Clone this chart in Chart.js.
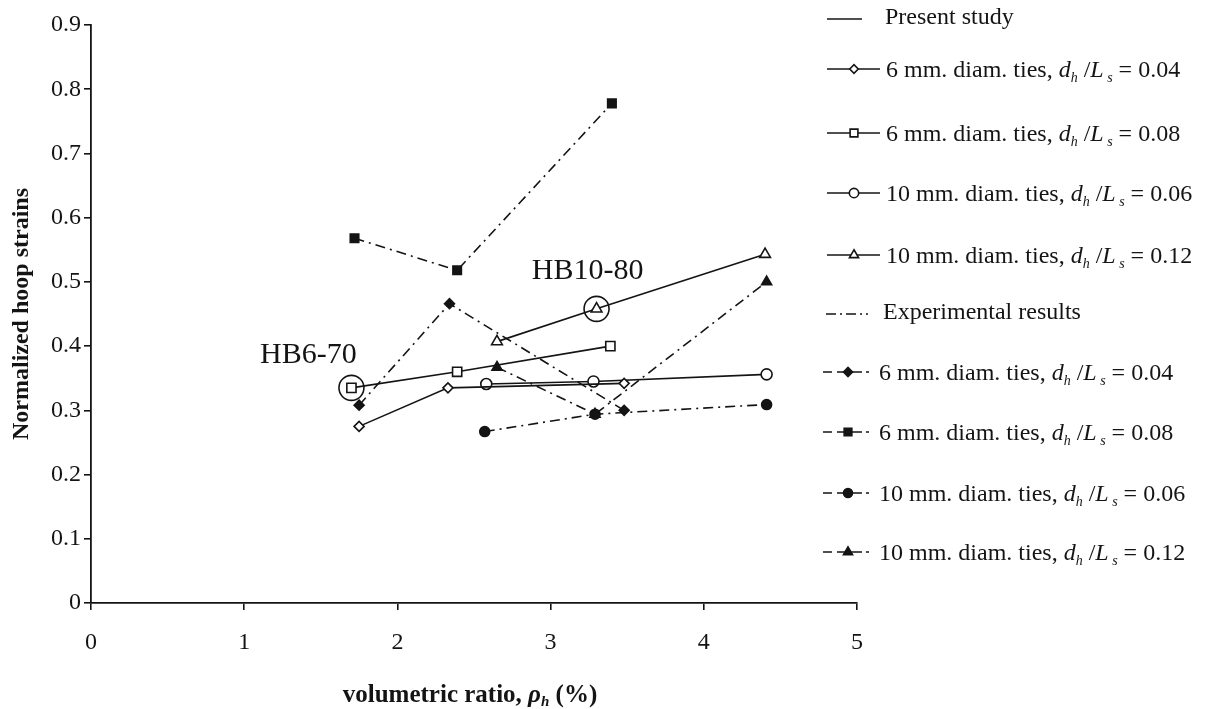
<!DOCTYPE html>
<html>
<head>
<meta charset="utf-8">
<script src="https://cdn.jsdelivr.net/npm/chart.js@4.4.0/dist/chart.umd.min.js"></script>
<style>
  html, body { margin: 0; padding: 0; background: #fff; }
  #wrap { width: 1208px; height: 709px; position: relative; }
</style>
</head>
<body>
<div id="wrap"><canvas id="hoop"></canvas></div>
<script>
// axis ticks
const xTickLabels = ['0', '1', '2', '3', '4', '5'];
const yTickLabels = ['0', '0.1', '0.2', '0.3', '0.4', '0.5', '0.6', '0.7', '0.8', '0.9'];

// present study: volumetric ratio (%) -> normalized hoop strain
const rho6_004 = [1.75, 2.33, 3.48];
const eps6_004 = [0.275, 0.335, 0.342];
const rho6_008 = [1.70, 2.39, 3.39];
const eps6_008 = [0.335, 0.360, 0.400];
const rho10_006 = [2.58, 3.28, 4.41];
const eps10_006 = [0.341, 0.345, 0.356];
const rho10_012 = [2.65, 3.30, 4.40];
const eps10_012 = [0.407, 0.458, 0.543];

// experimental results
const rhoExp6_004 = [1.75, 2.34, 3.48];
const epsExp6_004 = [0.308, 0.466, 0.300];
const rhoExp6_008 = [1.72, 2.39, 3.40];
const epsExp6_008 = [0.568, 0.518, 0.778];
const rhoExp10_006 = [2.57, 3.29, 4.41];
const epsExp10_006 = [0.267, 0.294, 0.309];
const rhoExp10_012 = [2.65, 3.29, 4.41];
const epsExp10_012 = [0.367, 0.294, 0.500];

const tieLabels = ['6 mm. diam. ties,', '6 mm. diam. ties,', '10 mm. diam. ties,', '10 mm. diam. ties,'];
const ratioLabels = ['0.04', '0.08', '0.06', '0.12'];
const specimens = ['HB6-70', 'HB10-80'];

const INK = '#141414';
const SERIF = '"Liberation Serif", "Times New Roman", serif';
const DASHDOT = [10, 5, 2, 5];
const LW = 1.6;

const pts = (xs, ys) => xs.map((x, i) => ({ x, y: ys[i] }));

function series(xs, ys, style, radius, filled, dashed) {
  return {
    data: pts(xs, ys),
    showLine: true,
    borderColor: INK,
    borderWidth: LW,
    borderDash: dashed ? DASHDOT : [],
    pointStyle: style,
    pointRadius: radius,
    pointHoverRadius: radius,
    pointBackgroundColor: filled ? INK : '#fff',
    pointBorderColor: INK,
    pointBorderWidth: LW,
    tension: 0
  };
}

const present = [
  series(rho6_004, eps6_004, 'rectRot', 5, false, false),
  series(rho6_008, eps6_008, 'rect', 6.5, false, false),
  series(rho10_006, eps10_006, 'circle', 5.5, false, false),
  series(rho10_012, eps10_012, 'triangle', 6.2, false, false)
];
const experimental = [
  series(rhoExp6_004, epsExp6_004, 'rectRot', 5, true, true),
  series(rhoExp6_008, epsExp6_008, 'rect', 6, true, true),
  series(rhoExp10_006, epsExp10_006, 'circle', 5, true, true),
  series(rhoExp10_012, epsExp10_012, 'triangle', 5.8, true, true)
];

// rings marking the two named specimens
const rings = {
  data: [
    { x: rho6_008[0], y: eps6_008[0] },
    { x: rho10_012[1], y: eps10_012[1] }
  ],
  showLine: false,
  pointStyle: 'circle',
  pointRadius: 12.5,
  pointHoverRadius: 12.5,
  pointBackgroundColor: 'rgba(0,0,0,0)',
  pointBorderColor: INK,
  pointBorderWidth: LW
};

// draws a run of text pieces [text, font, yShift] starting at x
function drawRun(ctx, x, y, parts) {
  parts.forEach(([t, f, dy]) => {
    ctx.font = f;
    ctx.fillText(t, x, y + (dy || 0));
    x += ctx.measureText(t).width;
  });
  return x;
}

function ratioParts(prefix, value) {
  return [
    [prefix + ' ', '24px ' + SERIF],
    ['d', 'italic 24px ' + SERIF],
    ['h', 'italic 14px ' + SERIF, 5],
    [' /', '24px ' + SERIF],
    ['L', 'italic 24px ' + SERIF],
    [' s', 'italic 14px ' + SERIF, 5],
    [' = ' + value, '24px ' + SERIF]
  ];
}

const sideLegend = {
  id: 'sideLegend',
  afterDraw(chart) {
    const ctx = chart.ctx;
    const rowsY = [19, 69, 133, 193, 255, 314, 372, 432, 493, 552];
    ctx.save();
    ctx.fillStyle = INK;
    ctx.strokeStyle = INK;
    ctx.lineWidth = LW;
    ctx.textBaseline = 'alphabetic';

    // present study header
    ctx.beginPath();
    ctx.moveTo(827, rowsY[0]); ctx.lineTo(862, rowsY[0]);
    ctx.stroke();
    drawRun(ctx, 885, rowsY[0] + 5, [['Present study', '24px ' + SERIF]]);

    present.forEach((ds, i) => {
      const y = rowsY[1 + i];
      ctx.setLineDash([]);
      ctx.beginPath();
      ctx.moveTo(827, y); ctx.lineTo(880, y);
      ctx.stroke();
      ctx.fillStyle = ds.pointBackgroundColor;
      Chart.helpers.drawPoint(ctx, { pointStyle: ds.pointStyle, radius: ds.pointRadius * 0.85, borderWidth: LW }, 854, y);
      ctx.fillStyle = INK;
      drawRun(ctx, 886, y + 8, ratioParts(tieLabels[i], ratioLabels[i]));
    });

    // experimental header
    let y = rowsY[5];
    ctx.setLineDash([10, 4, 2, 4]);
    ctx.beginPath();
    ctx.moveTo(826, y); ctx.lineTo(868, y);
    ctx.stroke();
    ctx.setLineDash([]);
    drawRun(ctx, 883, y + 5, [['Experimental results', '24px ' + SERIF]]);

    experimental.forEach((ds, i) => {
      const y = rowsY[6 + i];
      ctx.beginPath();
      ctx.moveTo(823, y); ctx.lineTo(832, y);
      ctx.moveTo(837, y); ctx.lineTo(862, y);
      ctx.moveTo(866, y); ctx.lineTo(869, y);
      ctx.stroke();
      ctx.fillStyle = INK;
      Chart.helpers.drawPoint(ctx, { pointStyle: ds.pointStyle, radius: ds.pointRadius * 0.9, borderWidth: LW }, 848, y);
      drawRun(ctx, 879, y + 8, ratioParts(tieLabels[i], ratioLabels[i]));
    });

    // x axis title with subscript
    const xa = chart.scales.x;
    const parts = [
      ['volumetric ratio, ', 'bold 25px ' + SERIF],
      ['\u03C1', 'italic bold 25px ' + SERIF],
      ['h', 'italic bold 15px ' + SERIF, 4],
      [' (%)', 'bold 25px ' + SERIF]
    ];
    let w = 0;
    parts.forEach(([t, f]) => { ctx.font = f; w += ctx.measureText(t).width; });
    drawRun(ctx, 470 - w / 2, 702, parts);

    // specimen names next to their rings
    const ys = chart.scales.y;
    ctx.font = '30px ' + SERIF;
    ctx.textAlign = 'center';
    ctx.textBaseline = 'middle';
    const offsets = [[-43, -33], [-9, -38]];
    rings.data.forEach((p, i) => {
      ctx.fillText(specimens[i], xa.getPixelForValue(p.x) + offsets[i][0], ys.getPixelForValue(p.y) + offsets[i][1]);
    });
    ctx.restore();
  }
};

new Chart(document.getElementById('hoop'), {
  type: 'scatter',
  data: { datasets: [rings, ...present, ...experimental] },
  options: {
    responsive: true,
    maintainAspectRatio: false,
    animation: false,
    layout: { padding: { top: 25, right: 351, left: 0, bottom: 0 } },
    plugins: { legend: { display: false }, tooltip: { enabled: false } },
    scales: {
      x: {
        type: 'linear',
        min: 0,
        max: 5,
        afterFit: s => { s.height = 106; },
        afterBuildTicks: s => { s.ticks = xTickLabels.map(Number).map(v => ({ value: v })); },
        ticks: {
          callback: (v, i) => xTickLabels[i],
          color: INK,
          font: { family: SERIF, size: 24 },
          padding: 18,
          maxRotation: 0
        },
        grid: { drawOnChartArea: false, drawTicks: true, tickLength: 7, color: INK, lineWidth: LW },
        border: { display: true, color: INK, width: 1.8 }
      },
      y: {
        type: 'linear',
        min: 0,
        max: 0.9,
        afterFit: s => { s.width = 91; },
        afterBuildTicks: s => { s.ticks = yTickLabels.map(Number).map(v => ({ value: v })); },
        ticks: {
          callback: (v, i) => yTickLabels[i],
          color: INK,
          font: { family: SERIF, size: 24 },
          padding: 3
        },
        grid: { drawOnChartArea: false, drawTicks: true, tickLength: 7, color: INK, lineWidth: LW },
        border: { display: true, color: INK, width: 1.8 },
        title: {
          display: true,
          text: 'Normalized hoop strains',
          color: INK,
          font: { family: SERIF, size: 24, weight: 'bold' },
          padding: { top: 7, bottom: 0 }
        }
      }
    }
  },
  plugins: [sideLegend]
});
</script>
</body>
</html>
